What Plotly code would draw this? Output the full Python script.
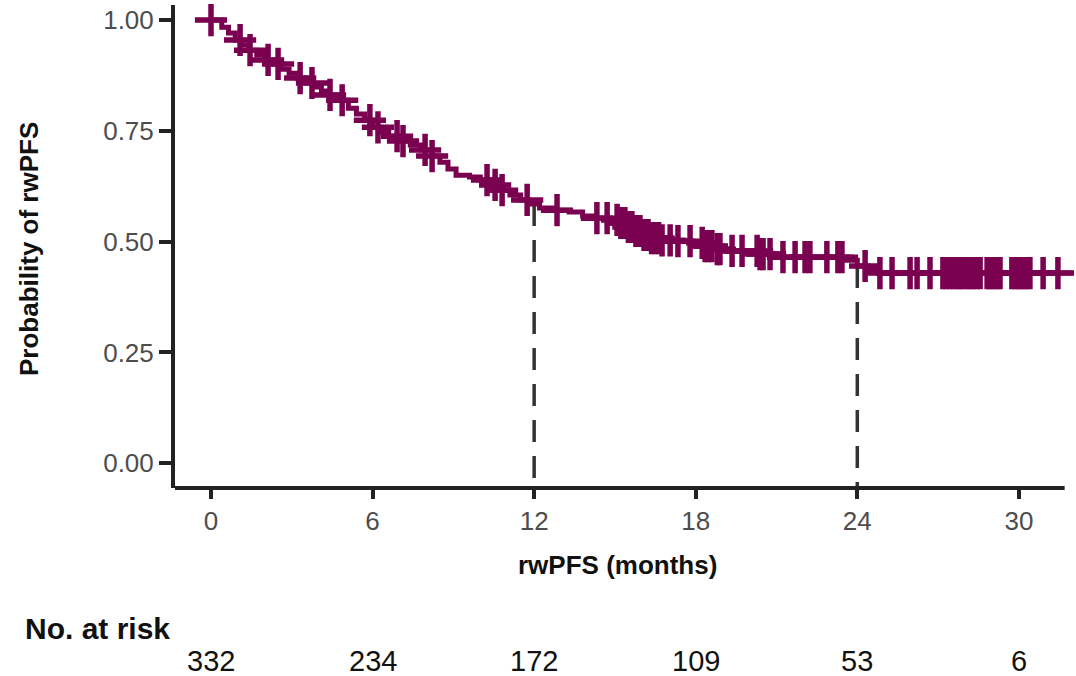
import bisect
import plotly.graph_objects as go

# ---- data ----
step_time = [0, 0.4, 0.65, 0.9, 1.1, 1.4, 1.7, 2.0, 2.3, 2.6, 2.9, 3.2, 3.5, 3.8, 4.1, 4.4,
             4.8, 5.1, 5.4, 5.7, 6.0, 6.3, 6.6, 7.0, 7.4, 7.8, 8.2, 8.5, 8.8, 9.1, 9.6, 10.0,
             10.4, 10.8, 11.1, 11.5, 11.8, 12.2, 12.8, 13.3, 13.8, 14.3, 14.8, 15.1, 15.4,
             15.7, 16.0, 16.3, 16.7, 17.3, 17.9, 18.3, 18.7, 19.1, 20.3, 20.8, 23.6, 24.0,
             24.4, 24.8, 32.0]
step_surv = [1.000, 0.984, 0.971, 0.955, 0.944, 0.932, 0.921, 0.910, 0.901, 0.889, 0.880,
             0.869, 0.858, 0.849, 0.840, 0.831, 0.819, 0.801, 0.788, 0.774, 0.758, 0.747,
             0.738, 0.727, 0.718, 0.707, 0.693, 0.679, 0.664, 0.650, 0.646, 0.639, 0.628,
             0.616, 0.605, 0.594, 0.585, 0.576, 0.571, 0.567, 0.558, 0.553, 0.549, 0.542,
             0.533, 0.524, 0.515, 0.508, 0.503, 0.501, 0.497, 0.490, 0.483, 0.479, 0.472,
             0.465, 0.458, 0.445, 0.438, 0.429, 0.429]

censor_time = [0.00, 1.08, 1.45, 2.12, 2.49, 3.31, 3.75, 4.42, 4.87, 5.90, 6.20, 6.91, 7.13,
               7.95, 8.21, 10.25, 10.55, 10.81, 11.74, 12.85, 14.33, 14.71, 15.08, 15.22,
               15.37, 15.50, 15.63, 15.78, 15.93, 16.08, 16.23, 16.36, 16.49, 16.62, 16.75,
               17.05, 17.34, 17.79, 18.24, 18.35, 18.46, 18.60, 18.80, 18.90, 19.35, 19.72,
               20.28, 20.39, 20.50, 20.76, 21.24, 21.69, 22.06, 22.24, 22.87, 23.28, 23.43,
               24.29, 24.84, 25.29, 25.96, 26.22, 26.70, 27.18, 27.30, 27.44, 27.57, 27.70,
               27.81, 27.92, 28.07, 28.18, 28.30, 28.43, 28.56, 28.82, 28.93, 29.04, 29.17,
               29.30, 29.74, 29.86, 29.97, 30.08, 30.19, 30.30, 30.41, 30.90, 31.45]

landmark_times = [12, 24]

x_ticks = [0, 6, 12, 18, 24, 30]
y_ticks = [0.0, 0.25, 0.5, 0.75, 1.0]
y_tick_labels = ["0.00", "0.25", "0.50", "0.75", "1.00"]
risk_times = [0, 6, 12, 18, 24, 30]
risk_counts = [332, 234, 172, 109, 53, 6]


def surv_at(t):
    i = bisect.bisect_right(step_time, t) - 1
    return step_surv[max(i, 0)]


censor_surv = [surv_at(t) for t in censor_time]

CURVE = "#7a0050"
AXIS = "#222222"
FONT = "Liberation Sans, Arial, sans-serif"

X_MIN, X_MAX = -1.337, 32.01
Y_MIN, Y_MAX = -0.056, 1.034

fig = go.Figure()

# dashed landmark lines
for t in landmark_times:
    fig.add_trace(go.Scatter(
        x=[t, t], y=[surv_at(t), Y_MIN], mode="lines",
        line=dict(color="#333333", width=3.5, dash="22px,14px"),
        hoverinfo="skip", showlegend=False))

fig.add_trace(go.Scatter(
    x=step_time, y=step_surv, mode="lines", line_shape="hv",
    line=dict(color=CURVE, width=5), showlegend=False))

fig.add_trace(go.Scatter(
    x=censor_time, y=censor_surv, mode="markers", cliponaxis=False,
    marker=dict(symbol="cross-thin", size=23, line=dict(color=CURVE, width=5.5), color=CURVE),
    showlegend=False))

# x axis line (ends before curve end, as in the reference)
fig.add_shape(type="line", xref="x", yref="paper", x0=X_MIN, x1=31.7, y0=0, y1=0,
              line=dict(color=AXIS, width=4), layer="above")

annotations = [
    dict(text="<b>rwPFS (months)</b>", xref="paper", yref="paper",
         x=(617 - 175) / 898, y=(488 - 565) / 483, xanchor="center", yanchor="middle",
         showarrow=False, font=dict(family=FONT, size=26, color="#111111")),
    dict(text="<b>Probability of rwPFS</b>", xref="paper", yref="paper",
         x=(29 - 175) / 898, y=(488 - 249) / 483, xanchor="center", yanchor="middle",
         textangle=-90, showarrow=False, font=dict(family=FONT, size=26, color="#111111")),
    dict(text="<b>No. at risk</b>", xref="paper", yref="paper",
         x=(23 - 175) / 898, y=(488 - 628) / 483, xanchor="left", yanchor="middle",
         showarrow=False, font=dict(family=FONT, size=30, color="#111111")),
]
for t, n in zip(risk_times, risk_counts):
    annotations.append(dict(text=str(n), xref="x", yref="paper", x=t,
                            y=(488 - 661) / 483, xanchor="center", yanchor="middle",
                            showarrow=False, font=dict(family=FONT, size=29, color="#111111")))

fig.update_layout(
    width=1076, height=676,
    margin=dict(l=175, r=3, t=5, b=188),
    paper_bgcolor="white", plot_bgcolor="white",
    font=dict(family=FONT),
    annotations=annotations,
    xaxis=dict(range=[X_MIN, X_MAX], tickvals=x_ticks, showgrid=False, zeroline=False,
               showline=False, ticks="outside", ticklen=10, tickwidth=4, tickcolor=AXIS,
               tickfont=dict(family=FONT, size=26, color="#4d4d4d")),
    yaxis=dict(range=[Y_MIN, Y_MAX], tickvals=y_ticks, ticktext=y_tick_labels,
               showgrid=False, zeroline=False, showline=True, linewidth=4, linecolor=AXIS,
               ticks="outside", ticklen=12, tickwidth=4, tickcolor=AXIS,
               tickfont=dict(family=FONT, size=26, color="#4d4d4d")),
)

fig.write_html("out.html")
